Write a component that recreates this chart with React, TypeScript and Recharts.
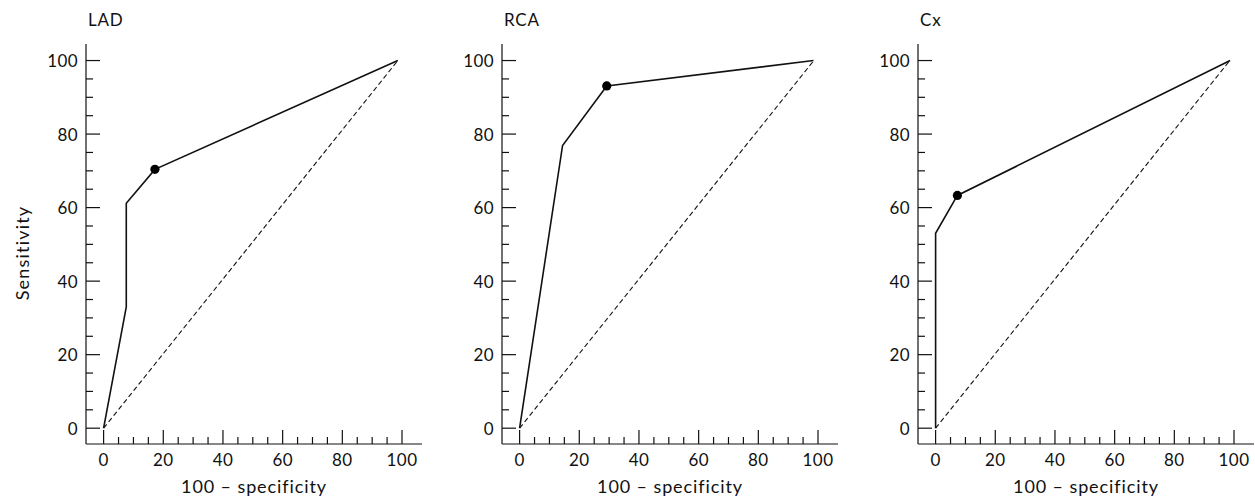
import { ComposedChart, Line, Scatter, XAxis, YAxis } from "recharts";

// 100 - specificity (x) and sensitivity (y)
const ladX = [0, 7.6, 7.6, 17.2, 98.6];
const ladY = [0, 33, 61.2, 70.4, 100];
const rcaX = [0, 14.4, 29.2, 98.5];
const rcaY = [0, 76.9, 93.1, 100];
const cxX = [0, 0, 7.3, 98.7];
const cxY = [0, 53, 63.3, 100];

// chosen cut-off points (filled dots)
const ladCut = [17.2, 70.4];
const rcaCut = [29.2, 93.1];
const cxCut = [7.3, 63.3];

// line of no discrimination
const chanceX = [0, 98.6];
const chanceY = [0, 100];

const titles = ["LAD", "RCA", "Cx"];
const axisTicks = [0, 5, 10, 15, 20, 25, 30, 35, 40, 45, 50, 55, 60, 65, 70, 75, 80, 85, 90, 95, 100];

const FONT = "Lato, 'Noto Sans', sans-serif";
const INK = "#111";

const toPoints = (xs: number[], ys: number[]) => xs.map((x, i) => ({ x, y: ys[i] }));

const YTick = (props: any) => {
  const { x, y, payload } = props;
  const v = payload.value;
  const major = v % 20 === 0;
  const ax = x + 8;
  return (
    <g>
      <line x1={ax} x2={ax + (major ? 14 : 7)} y1={y} y2={y} stroke={INK} strokeWidth={1.2} />
      {major && (
        <text x={x} y={y} textAnchor="end" dominantBaseline="central" fontFamily={FONT} fontSize={17} letterSpacing={0.4} fill={INK}>
          {v}
        </text>
      )}
    </g>
  );
};

const XTick = (props: any) => {
  const { x, y, payload } = props;
  const v = payload.value;
  const major = v % 20 === 0;
  const ay = y - 8;
  return (
    <g>
      <line x1={x} x2={x} y1={ay} y2={ay - (major ? 14 : 7)} stroke={INK} strokeWidth={1.2} />
      {major && (
        <text x={x} y={ay + 22} textAnchor="middle" fontFamily={FONT} fontSize={17} letterSpacing={0.4} fill={INK}>
          {v}
        </text>
      )}
    </g>
  );
};

const Panel = ({ curveX, curveY, cut, showYLabel }: { curveX: number[]; curveY: number[]; cut: number[]; showYLabel: boolean }) => (
  <ComposedChart width={423} height={501} margin={{ top: 44, right: 1, bottom: 7, left: 36 }}>
    <XAxis
      dataKey="x"
      type="number"
      domain={[-5.9, 106.7]}
      ticks={axisTicks}
      interval={0}
      allowDataOverflow
      tickSize={0}
      tickMargin={8}
      tick={XTick}
      height={50}
      axisLine={{ stroke: INK, strokeWidth: 1.2 }}
      label={{
        content: (p: any) => (
          <text
            x={p.viewBox.x + p.viewBox.width / 2}
            y={p.viewBox.y + 49}
            textAnchor="middle"
            fontFamily={FONT}
            fontSize={18}
            letterSpacing={0.9}
            fill={INK}
          >
            100 – specificity
          </text>
        ),
      }}
    />
    <YAxis
      dataKey="y"
      type="number"
      domain={[-4.3, 104.5]}
      ticks={axisTicks}
      interval={0}
      allowDataOverflow
      tickSize={0}
      tickMargin={8}
      tick={YTick}
      width={50}
      axisLine={{ stroke: INK, strokeWidth: 1.2 }}
      label={
        showYLabel
          ? {
              content: (p: any) => {
                const cx = p.viewBox.x - 14;
                const cy = p.viewBox.y + p.viewBox.height / 2 + 9;
                return (
                  <text
                    x={cx}
                    y={cy}
                    transform={`rotate(-90 ${cx} ${cy})`}
                    textAnchor="middle"
                    dominantBaseline="central"
                    fontFamily={FONT}
                    fontSize={18}
                    letterSpacing={1.2}
                    fill={INK}
                  >
                    Sensitivity
                  </text>
                );
              },
            }
          : undefined
      }
    />
    <Line
      data={toPoints(chanceX, chanceY)}
      dataKey="y"
      type="linear"
      stroke={INK}
      strokeWidth={1.1}
      strokeDasharray="5 3"
      dot={false}
      activeDot={false}
      isAnimationActive={false}
    />
    <Line
      data={toPoints(curveX, curveY)}
      dataKey="y"
      type="linear"
      stroke={INK}
      strokeWidth={1.6}
      dot={false}
      activeDot={false}
      isAnimationActive={false}
    />
    <Scatter
      data={[{ x: cut[0], y: cut[1] }]}
      dataKey="y"
      fill="#000"
      isAnimationActive={false}
      shape={(p: any) => <circle cx={p.cx} cy={p.cy} r={4.6} fill="#000" />}
    />
  </ComposedChart>
);

export default function App() {
  const panels = [
    { curveX: ladX, curveY: ladY, cut: ladCut },
    { curveX: rcaX, curveY: rcaY, cut: rcaCut },
    { curveX: cxX, curveY: cxY, cut: cxCut },
  ];
  return (
    <div style={{ position: "absolute", left: 0, top: 0, width: 1255, height: 501, overflow: "hidden", background: "#fff" }}>
      <svg width={1255} height={40} style={{ position: "absolute", left: 0, top: 0 }}>
        {titles.map((t, i) => (
          <text key={t} x={88 + i * 416} y={26} fontFamily={FONT} fontSize={17} letterSpacing={0.8} fill={INK}>
            {t}
          </text>
        ))}
      </svg>
      {panels.map((p, i) => (
        <div key={titles[i]} style={{ position: "absolute", left: i * 416, top: 0 }}>
          <Panel {...p} showYLabel={i === 0} />
        </div>
      ))}
    </div>
  );
}
